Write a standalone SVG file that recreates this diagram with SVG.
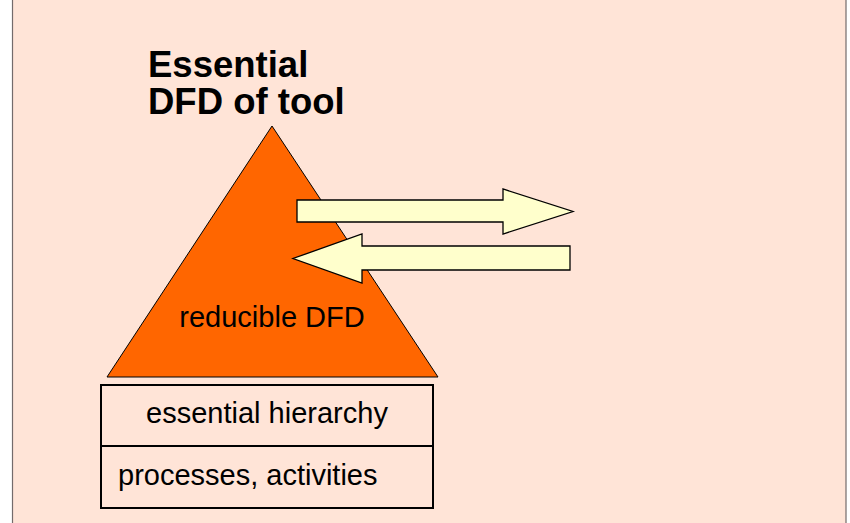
<svg xmlns="http://www.w3.org/2000/svg" width="850" height="523" viewBox="0 0 850 523">
<style>
.t{font-family:"Liberation Sans",Arial,sans-serif;fill:#000}
.b{font-weight:bold;font-size:36.5px}
.n{font-size:29px}
.arrow{fill:#FFFFCC;stroke:#000;stroke-width:1.3}
</style>
<rect x="0" y="0" width="850" height="523" fill="#fff"/>
<rect x="12.5" y="-1" width="833.5" height="530" fill="#FFE4D7" stroke="#736b6b" stroke-width="1.2"/>
<g id="title">
<text class="t b" x="148" y="77">Essential</text>
<text class="t b" x="148" y="114">DFD of tool</text>
</g>
<g id="triangle">
<polygon points="272,126 107,377 438,377" fill="#FF6600" stroke="#000" stroke-width="1"/>
<text class="t n" x="272" y="327" text-anchor="middle">reducible DFD</text>
</g>
<g id="box">
<rect x="101" y="385" width="332" height="123" fill="none" stroke="#000" stroke-width="2"/>
<line x1="101" y1="446" x2="433" y2="446" stroke="#000" stroke-width="2"/>
<text class="t n" x="267" y="423" text-anchor="middle">essential hierarchy</text>
<text class="t n" x="118" y="485">processes, activities</text>
</g>
<g id="connectors">
<polygon class="arrow" points="297,200 503,200 503,189 573,211.5 503,234 503,222 297,222"/>
<polygon class="arrow" points="570,246 362,246 362,234 293,258.5 362,283 362,270 570,270"/>
</g>
</svg>
